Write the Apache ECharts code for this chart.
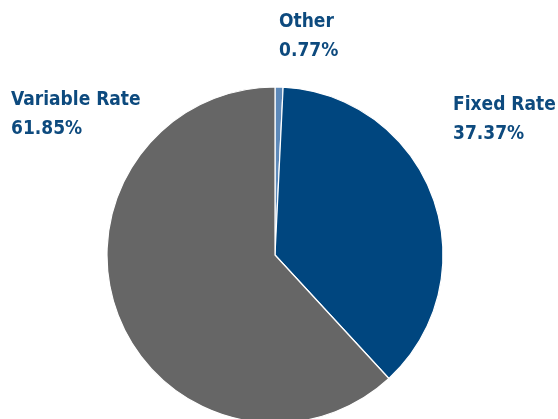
<!DOCTYPE html>
<html>
<head>
<meta charset="utf-8">
<script src="https://cdn.jsdelivr.net/npm/echarts@6/dist/echarts.min.js"></script>
<style>
  html, body { margin: 0; padding: 0; background: #ffffff; }
  #chart { width: 558px; height: 419px; }
</style>
</head>
<body>
<div id="chart"></div>
<script>
// Portfolio split by rate type
const categories = ['Other', 'Fixed Rate', 'Variable Rate'];
const shares = [0.77, 37.37, 61.85];
const sliceColors = ['#5d89b9', '#00467f', '#666666'];

// Label anchor points (top-left of each two-line label)
const labelSpots = [
  { x: 279, y: 8 },
  { x: 453, y: 91 },
  { x: 11, y: 86 }
];

const chart = echarts.init(document.getElementById('chart'), null, { renderer: 'canvas' });

chart.setOption({
  animation: false,
  series: [{
    type: 'pie',
    center: [275, 255],
    radius: 168,
    startAngle: 90,
    clockwise: true,
    data: categories.map((name, i) => ({
      name: name,
      value: shares[i],
      itemStyle: { color: sliceColors[i] }
    })),
    itemStyle: { borderColor: '#ffffff', borderWidth: 1.2 },
    label: {
      show: true,
      position: 'outside',
      alignTo: 'none',
      overflow: 'none',
      formatter: p => p.name + '\n' + p.value.toFixed(2) + '%',
      fontFamily: '"DejaVu Sans Condensed", "Liberation Sans Narrow", sans-serif',
      fontWeight: 'bold',
      fontSize: 19,
      lineHeight: 29,
      color: '#0d4a7e'
    },
    labelLine: { show: false },
    labelLayout: params => ({
      x: labelSpots[params.dataIndex].x,
      y: labelSpots[params.dataIndex].y,
      width: 200,
      align: 'left',
      verticalAlign: 'top'
    })
  }]
});
</script>
</body>
</html>
